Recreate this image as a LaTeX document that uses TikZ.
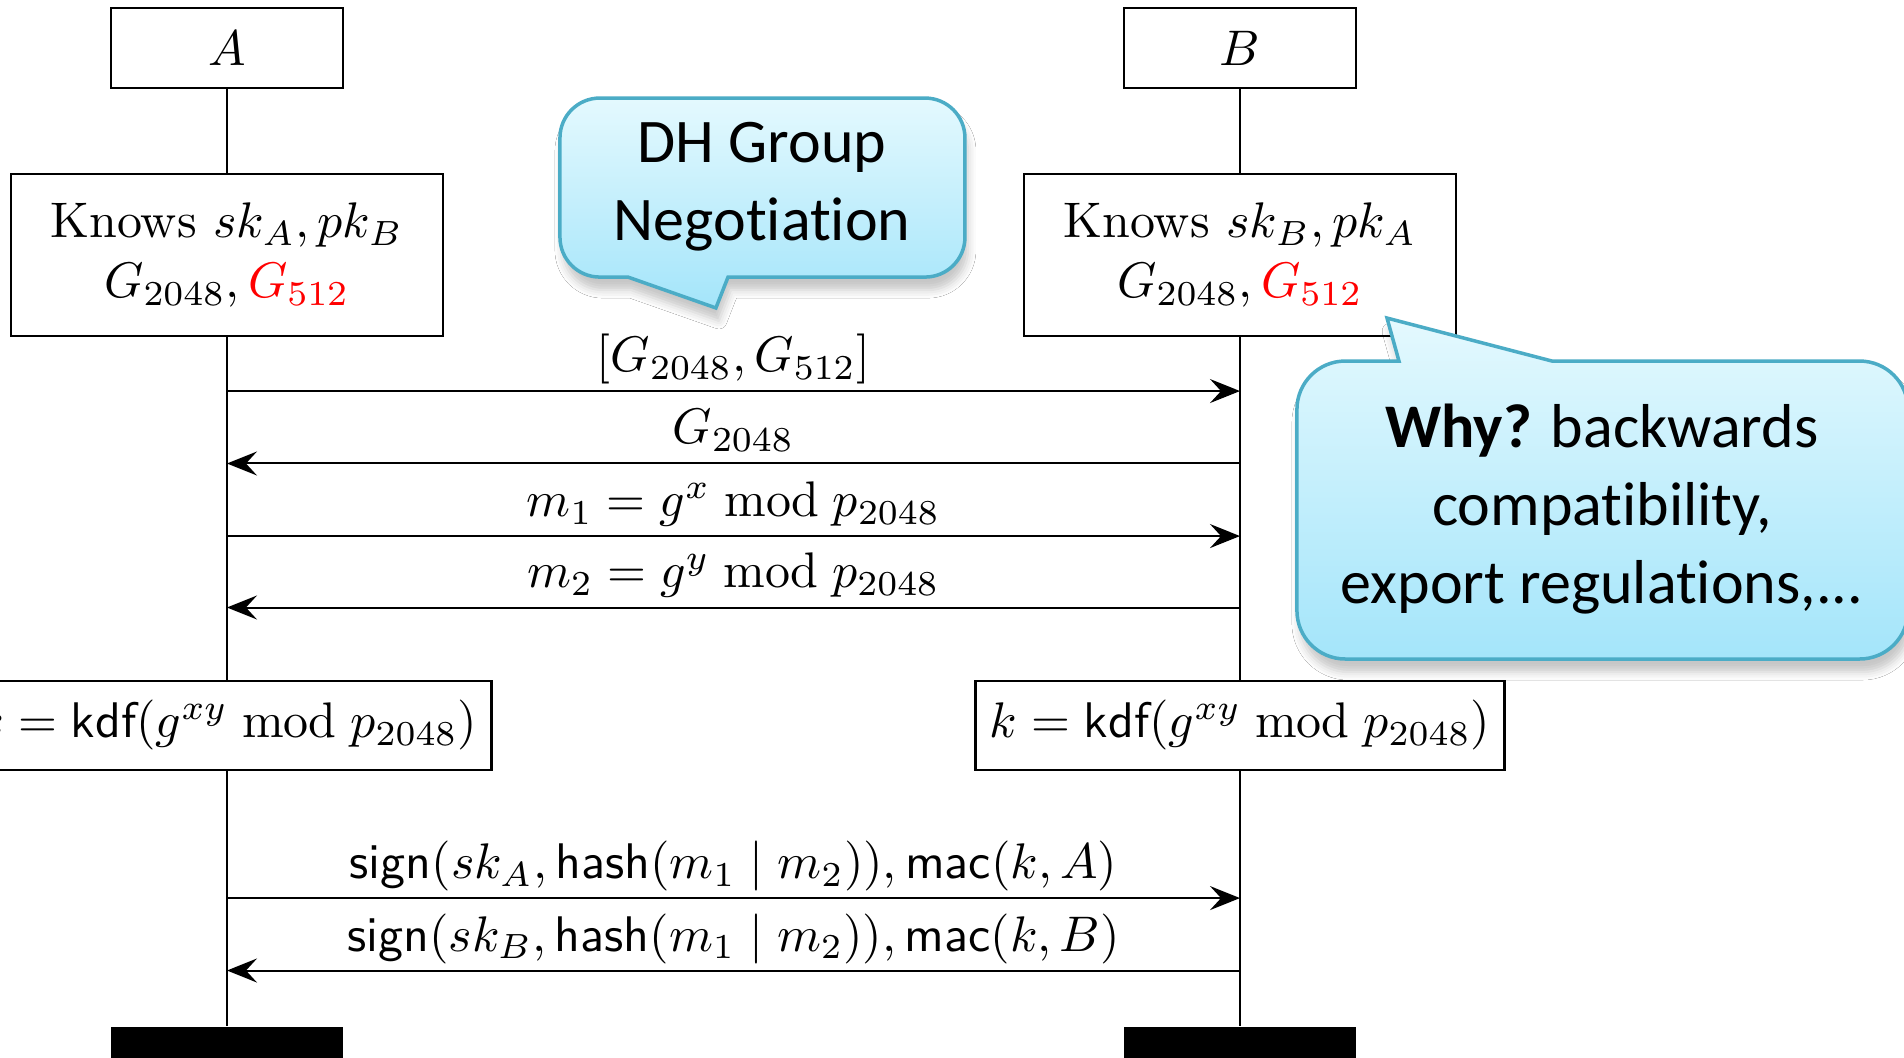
\documentclass[tikz,border=0pt]{standalone}
\usepackage{amsmath}
\usepackage{xcolor}
\usepackage{fontspec}
\newfontfamily\bubblefont[Ligatures={NoCommon,NoContextual}, Contextuals=NoAlternate]{Carlito}
\usepackage{tikz}
\usetikzlibrary{arrows.meta,positioning,shadows.blur}

\definecolor{bubbleedge}{RGB}{75,172,198}
\definecolor{bubbletop}{RGB}{228,249,254}
\definecolor{bubblebot}{RGB}{164,229,250}

\tikzset{
    inst/.style={draw, line width=0.5pt, minimum width=1.63cm, minimum height=0.562cm, inner sep=0pt},
    instend/.style={fill=black, minimum width=1.63cm, minimum height=0.562cm, inner sep=0pt},
    action/.style={draw, line width=0.5pt, align=center, minimum width=3.036cm, minimum height=1.138cm, inner sep=0pt},
    keybox/.style={draw, line width=0.5pt, minimum width=3.717cm, minimum height=0.625cm, inner sep=0pt},
    msg/.style={-{Stealth[length=6pt,width=4.8pt,inset=2.2pt]}},
    lbl/.style={anchor=base, yshift=3.9pt, inner sep=0pt},
    bubble/.style={draw=bubbleedge, line width=0.7pt, top color=bubbletop, bottom color=bubblebot,
        blur shadow={shadow xshift=0.6pt, shadow yshift=-2.6pt, shadow blur radius=1.6pt, shadow opacity=22}},
    bubbletext/.style={font=\bubblefont\fontsize{12.4}{15.6}\selectfont, align=center, inner sep=0pt}
}

\begin{document}
\begin{tikzpicture}
    \fill[white] (-1.595,0) rectangle (11.785,-7.428);
    \useasboundingbox (-1.595,0) rectangle (11.785,-7.428);

    % Instances and their boxes
    \node[inst] (A) at (0,-0.337) {$A$};
    \node[inst] (B) at (7.119,-0.337) {$B$};
    \node[action] (knowsA) at (0,-1.792) {Knows $sk_A, pk_B$\\ $G_{2048}, \textcolor{red}{G_{512}}$};
    \node[action] (knowsB) at (7.119,-1.792) {Knows $sk_B, pk_A$\\ $G_{2048}, \textcolor{red}{G_{512}}$};
    \node[keybox] (kdfA) at (0,-5.098) {$k = \mathsf{kdf}(g^{xy} \bmod p_{2048})$};
    \node[keybox] (kdfB) at (7.119,-5.098) {$k = \mathsf{kdf}(g^{xy} \bmod p_{2048})$};
    \node[instend] (endA) at (0,-7.498) {};
    \node[instend] (endB) at (7.119,-7.498) {};

    % Lifelines
    \draw (A) -- (knowsA) (knowsA) -- (kdfA) (kdfA) -- (endA);
    \draw (B) -- (knowsB) (knowsB) -- (kdfB) (kdfB) -- (endB);

    % Message heights on both lifelines
    \foreach \i/\y in {1/-2.748, 2/-3.257, 3/-3.767, 4/-4.269, 5/-6.311, 6/-6.820} {
        \coordinate (a\i) at (0,\y);
        \coordinate (b\i) at (7.119,\y);
    }

    % Messages
    \draw[msg] (a1) -- node[lbl] {$[G_{2048}, G_{512}]$} (b1);
    \draw[msg] (b2) -- node[lbl] {$G_{2048}$} (a2);
    \draw[msg] (a3) -- node[lbl] {$m_1 = g^x \bmod p_{2048}$} (b3);
    \draw[msg] (b4) -- node[lbl] {$m_2 = g^y \bmod p_{2048}$} (a4);
    \draw[msg] (a5) -- node[lbl] {$\mathsf{sign}(sk_A, \mathsf{hash}(m_1 \mid m_2)), \mathsf{mac}(k, A)$} (b5);
    \draw[msg] (b6) -- node[lbl] {$\mathsf{sign}(sk_B, \mathsf{hash}(m_1 \mid m_2)), \mathsf{mac}(k, B)$} (a6);

    % Speech bubbles (t{}i keeps Carlito from joining the two letters)
    \draw[bubble] (2.818,-1.947) [sharp corners] -- (3.436,-2.164) -- (3.521,-1.947)
        [rounded corners=0.28cm] -- (5.186,-1.947) -- (5.186,-0.689) -- (2.340,-0.689) -- (2.340,-1.947)
        [sharp corners] -- cycle;
    \node[bubbletext] (dh) at (3.760,-1.311) {DH Group\\Negot{}iat{}ion};

    \draw[bubble] (9.311,-2.537) [sharp corners] -- (8.152,-2.235) -- (8.236,-2.537)
        [rounded corners=0.34cm] -- (7.519,-2.537) -- (7.519,-4.631) -- (11.813,-4.631) -- (11.813,-2.537)
        [sharp corners] -- cycle;
    \node[bubbletext] (why) at (9.663,-3.577) {\textbf{Why?} backwards\\compat{}ibilit{}y,\\export regulat{}ions,...};
\end{tikzpicture}
\end{document}
